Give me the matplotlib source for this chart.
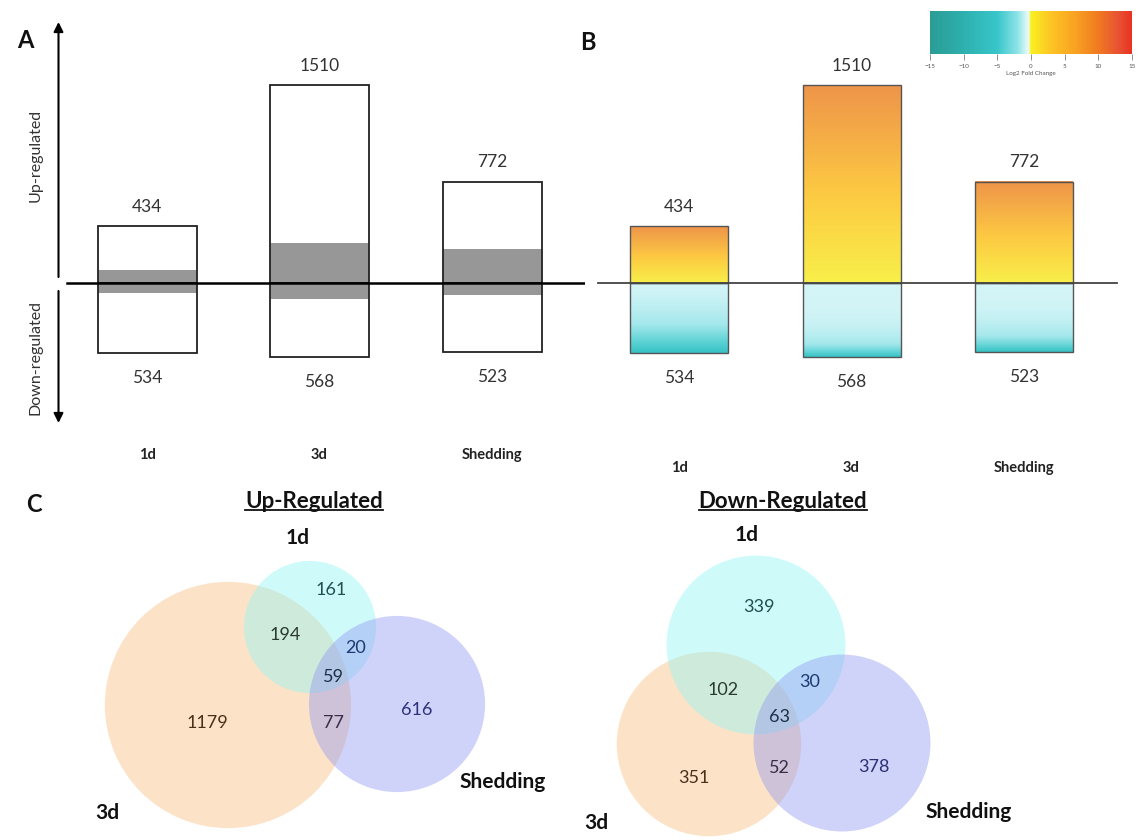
import numpy as np
import matplotlib
matplotlib.use("Agg")
import matplotlib.pyplot as plt
import matplotlib as mpl
from matplotlib.colors import LinearSegmentedColormap, Normalize
from matplotlib.patches import Circle, FancyArrowPatch
from matplotlib.lines import Line2D

plt.rcParams['font.family'] = ['Lato', 'DejaVu Sans']

W, H = 1141, 840

timepoints = ['1d', '3d', 'Shedding']
up_counts = [434, 1510, 772]
down_counts = [534, 568, 523]
# shared genes shown as the grey band around zero in panel A
band_up = [100, 305, 260]
band_down = [77, 122, 92]

# Venn regions: 1d only, 3d only, Shedding only, 1d&3d, 1d&Shedding, 3d&Shedding, all three
venn_regions = ['1d', '3d', 'Shedding', '1d_3d', '1d_Shedding', '3d_Shedding', 'all']
venn_up = [161, 1179, 616, 194, 20, 77, 59]
venn_down = [339, 351, 378, 102, 30, 52, 63]

fc_ticks = [-15, -10, -5, 0, 5, 10, 15]

GENE_PX = 0.131   # pixels per gene on the bar panels
ZERO_Y = 283
TOP_Y, BOT_Y = 20, 435
SPACING = 172.5

fig = plt.figure(figsize=(W / 100, H / 100), dpi=100)


def add_px_axes(x0, y0, x1, y1):
    return fig.add_axes([x0 / W, 1 - y1 / H, (x1 - x0) / W, (y1 - y0) / H])


def fpos(x, y):
    return (x / W, 1 - y / H)


def bar_axes(x0, x1, first_center):
    ax = add_px_axes(x0, TOP_Y, x1, BOT_Y)
    for s in ax.spines.values():
        s.set_visible(False)
    ax.set_yticks([])
    ax.set_xticks(range(len(timepoints)))
    ax.set_xticklabels(timepoints, fontweight='bold', fontsize=10.5, color='#222')
    ax.tick_params(axis='x', length=0)
    ax.patch.set_alpha(0)
    return ax


def set_limits(ax, x0, x1, first_center):
    ax.set_xlim((x0 - first_center) / SPACING, (x1 - first_center) / SPACING)
    ax.set_ylim(-(BOT_Y - ZERO_Y) / GENE_PX, (ZERO_Y - TOP_Y) / GENE_PX)


def value_labels(ax, xs):
    for xi, u, d in zip(xs, up_counts, down_counts):
        ax.annotate(str(u), (xi, u), xytext=(0, 14), textcoords='offset points',
                    ha='center', va='center', fontsize=12.5, color='#333')
        ax.annotate(str(d), (xi, -d), xytext=(0, -18), textcoords='offset points',
                    ha='center', va='center', fontsize=12.5, color='#333')


x = np.arange(len(timepoints))
neg_down = [-d for d in down_counts]

# ---- panel A: outline bars with grey shared band
axA = bar_axes(0, 585, 147)
wA = 99 / SPACING
axA.bar(x, up_counts, width=wA, color='white', lw=0, zorder=1)
axA.bar(x, neg_down, width=wA, color='white', lw=0, zorder=1)
axA.bar(x, np.add(band_up, band_down), bottom=[-b for b in band_down], width=wA,
        color='#979797', lw=0, zorder=2)
axA.bar(x, up_counts, width=wA, fill=False, edgecolor='#222', lw=1.3, zorder=3)
axA.bar(x, neg_down, width=wA, fill=False, edgecolor='#222', lw=1.3, zorder=3)
set_limits(axA, 0, 585, 147)
axA.axhline(0, xmin=67 / 585, xmax=585 / 585, color='black', lw=1.8, zorder=4)
axA.tick_params(axis='x', pad=9)
value_labels(axA, x)

arrow = dict(arrowstyle='-|>', color='black', lw=1.5, mutation_scale=14, shrinkA=0, shrinkB=0)
fig.add_artist(FancyArrowPatch(fpos(58.5, 277), fpos(58.5, 22),
                               transform=fig.transFigure, **arrow))
fig.add_artist(FancyArrowPatch(fpos(58.5, 291), fpos(58.5, 423),
                               transform=fig.transFigure, **arrow))
fig.text(*fpos(36, 155), 'Up-regulated', rotation=90, ha='center', va='center',
         fontsize=11.5, color='#333')
fig.text(*fpos(35, 357), 'Down-regulated', rotation=90, ha='center', va='center',
         fontsize=11.5, color='#333')

# ---- panel B: gradient bars
up_cmap = LinearSegmentedColormap.from_list(
    'up', [(0, '#f8ef4a'), (0.45, '#fdca42'), (1, '#ee944a')])
down_cmap = LinearSegmentedColormap.from_list(
    'down', [(0, '#d4f5f7'), (0.5, '#a4e8ec'), (0.8, '#5cd2d4'), (1, '#36c2c4')])
down_power = [1.3, 3.5, 2.6]

axB = bar_axes(590, 1141, 679)
wB = 98 / SPACING
grad = np.linspace(0, 1, 256).reshape(-1, 1)
for xi, u, d, p in zip(x, up_counts, down_counts, down_power):
    axB.imshow(grad, cmap=up_cmap, origin='lower', aspect='auto', zorder=1,
               extent=(xi - wB / 2, xi + wB / 2, 0, u))
    axB.imshow(grad ** p, cmap=down_cmap, origin='upper', aspect='auto', zorder=1,
               extent=(xi - wB / 2, xi + wB / 2, -d, 0))
axB.bar(x, up_counts, width=wB, fill=False, edgecolor='#555', lw=1.0, zorder=3)
axB.bar(x, neg_down, width=wB, fill=False, edgecolor='#555', lw=1.0, zorder=3)
set_limits(axB, 590, 1141, 679)
axB.axhline(0, xmin=8 / 551, xmax=527 / 551, color='#444', lw=1.3, zorder=4)
axB.tick_params(axis='x', pad=19)
value_labels(axB, x)

# colour key
fc_cmap = LinearSegmentedColormap.from_list('fc', [
    (0.0, '#2a9c95'), (1 / 6, '#2eb0ae'), (2 / 6, '#38c6ca'), (0.43, '#8ae2e6'),
    (0.49, '#eefbfb'), (0.5, '#f8f020'), (0.6, '#fcc424'), (0.72, '#f8a222'),
    (5 / 6, '#f07a20'), (0.93, '#e85434'), (1.0, '#e83222')])
cax = add_px_axes(930, 11, 1132, 54)
cb = mpl.colorbar.ColorbarBase(cax, cmap=fc_cmap, norm=Normalize(-15, 15),
                               orientation='horizontal', ticks=fc_ticks)
cb.outline.set_visible(False)
cax.tick_params(labelsize=4.5, length=4, width=0.5, color='#666', labelcolor='#555', pad=3)
cb.set_label('Log2 Fold Change', fontsize=4.5, color='#555', labelpad=2)

# ---- panel C: Venn diagrams
axC = add_px_axes(0, 480, W, H)
axC.set_xlim(0, W)
axC.set_ylim(H, 480)
axC.axis('off')

set_colors = {'1d': '#8ef5f5', '3d': '#f9bd7e', 'Shedding': '#9096f2'}
region_colors = ['#1f5050', '#4a3018', '#2c3078', '#2a3a2c', '#1a3a70', '#3a2c48', '#1c3048']


def set_totals(counts):
    c = dict(zip(venn_regions, counts))
    return {
        '1d': c['1d'] + c['1d_3d'] + c['1d_Shedding'] + c['all'],
        '3d': c['3d'] + c['1d_3d'] + c['3d_Shedding'] + c['all'],
        'Shedding': c['Shedding'] + c['1d_Shedding'] + c['3d_Shedding'] + c['all'],
    }


def venn(counts, centers, k, label_pos, set_label_pos, title, title_pos):
    totals = set_totals(counts)
    for name in ['3d', '1d', 'Shedding']:
        axC.add_patch(Circle(centers[name], k * np.sqrt(totals[name]),
                             facecolor=set_colors[name], alpha=0.42, lw=0))
    for n, pos, col in zip(counts, label_pos, region_colors):
        axC.text(*pos, str(n), ha='center', va='center', fontsize=13, color=col)
    for name, pos in set_label_pos.items():
        axC.text(*pos, name, ha='center', va='center', fontsize=15,
                 fontweight='bold', color='#111')
    return axC.text(*title_pos, title, ha='center', va='center', fontsize=16,
                    fontweight='bold', color='#111')


t_up = venn(venn_up,
            {'1d': (310, 627), '3d': (228, 705), 'Shedding': (397, 704)}, 3.17,
            [(331, 590), (207, 723), (417, 710), (285, 635), (356, 648), (333, 723), (333, 677)],
            {'1d': (298, 538), '3d': (107, 813), 'Shedding': (503, 782)},
            'Up-Regulated', (314, 502))
t_down = venn(venn_down,
              {'1d': (756, 645), '3d': (709, 744), 'Shedding': (842, 743)}, 3.87,
              [(759, 607), (694, 778), (874, 767), (723, 690), (810, 682), (779, 768), (779, 717)],
              {'1d': (747, 535), '3d': (596, 823), 'Shedding': (969, 812)},
              'Down-Regulated', (783, 502))

# underline the Venn titles
renderer = fig.canvas.get_renderer()
for t in (t_up, t_down):
    bb = t.get_window_extent(renderer).transformed(fig.transFigure.inverted())
    fig.add_artist(Line2D([bb.x0, bb.x1], [bb.y0 + 0.003, bb.y0 + 0.003],
                          transform=fig.transFigure, color='#111', lw=1.3))

# panel letters
for letter, (lx, ly) in zip('ABC', [(25, 40), (588, 42), (34, 505)]):
    fig.text(*fpos(lx, ly), letter, ha='center', va='center', fontsize=17,
             fontweight='bold', color='#111')

fig.savefig('out.png', dpi=100, facecolor='white')
